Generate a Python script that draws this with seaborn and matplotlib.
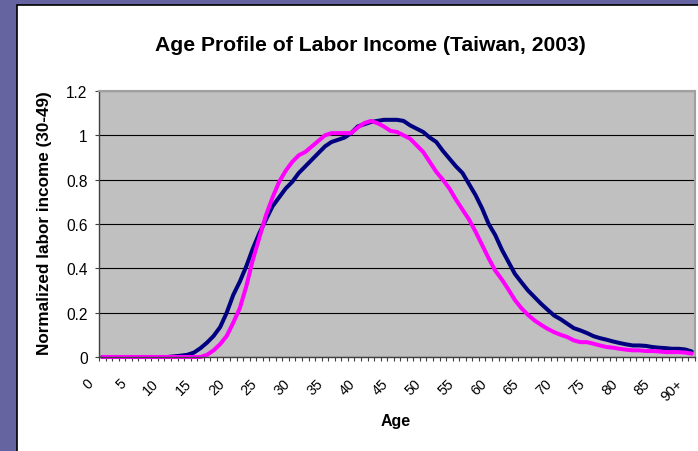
import numpy as np
import pandas as pd
import matplotlib
matplotlib.use("Agg")
import matplotlib.pyplot as plt
from matplotlib.patches import Rectangle
from matplotlib.transforms import ScaledTranslation
import seaborn as sns

# ---------------- data ----------------
ages = list(range(91))
age_labels = [str(a) if a < 90 else "90+" for a in ages]
tick_ages = list(range(0, 91, 5))

navy_profile = [
    0, 0, 0, 0, 0, 0, 0, 0, 0, 0,                                   # 0-9
    0, 0.003, 0.006, 0.01, 0.02, 0.04, 0.065, 0.095, 0.135, 0.20,    # 10-19
    0.28, 0.34, 0.41, 0.49, 0.56, 0.62, 0.68, 0.72, 0.76, 0.79,      # 20-29
    0.83, 0.86, 0.89, 0.92, 0.95, 0.97, 0.98, 0.99, 1.01, 1.04,      # 30-39
    1.05, 1.06, 1.065, 1.07, 1.07, 1.07, 1.065, 1.045, 1.03, 1.015,  # 40-49
    0.99, 0.97, 0.93, 0.895, 0.86, 0.83, 0.78, 0.73, 0.67, 0.60,     # 50-59
    0.55, 0.485, 0.43, 0.375, 0.337, 0.30, 0.27, 0.24, 0.213, 0.187, # 60-69
    0.17, 0.15, 0.13, 0.12, 0.108, 0.094, 0.085, 0.078, 0.07, 0.063, # 70-79
    0.057, 0.052, 0.052, 0.05, 0.045, 0.042, 0.04, 0.037, 0.037, 0.034, # 80-89
    0.025,                                                           # 90+
]

magenta_profile = [
    0, 0, 0, 0, 0, 0, 0, 0, 0, 0,                                    # 0-9
    0, 0, 0, 0, 0, 0, 0.01, 0.03, 0.058, 0.095,                      # 10-19
    0.155, 0.22, 0.32, 0.44, 0.54, 0.64, 0.72, 0.79, 0.84, 0.88,     # 20-29
    0.91, 0.925, 0.95, 0.975, 1.0, 1.01, 1.01, 1.01, 1.01, 1.035,    # 30-39
    1.055, 1.065, 1.055, 1.04, 1.02, 1.015, 1.0, 0.985, 0.955, 0.925,# 40-49
    0.88, 0.835, 0.80, 0.76, 0.71, 0.665, 0.62, 0.565, 0.505, 0.445, # 50-59
    0.39, 0.35, 0.305, 0.257, 0.22, 0.19, 0.165, 0.145, 0.127, 0.112,# 60-69
    0.10, 0.09, 0.075, 0.067, 0.067, 0.06, 0.052, 0.045, 0.042, 0.037, # 70-79
    0.033, 0.03, 0.03, 0.027, 0.027, 0.025, 0.022, 0.022, 0.022, 0.02, # 80-89
    0.015,                                                           # 90+
]

series_names = ["Profile A", "Profile B"]
series_colors = ["#000080", "#FF00FF"]
y_ticks = [0, 0.2, 0.4, 0.6, 0.8, 1.0, 1.2]
y_tick_labels = ["0", "0.2", "0.4", "0.6", "0.8", "1", "1.2"]

df = pd.DataFrame({
    "age": ages + ages,
    "value": navy_profile + magenta_profile,
    "series": [series_names[0]] * len(ages) + [series_names[1]] * len(ages),
})

# ---------------- style ----------------
sns.set_theme(style="white")
plt.rcParams["font.family"] = ["Liberation Sans", "DejaVu Sans"]

W, H = 698, 452
fig = plt.figure(figsize=(W / 100, H / 100), dpi=100)
fig.patch.set_facecolor("#6664A0")
fig.patches.append(Rectangle((16.5 / W, -0.05), 1.1, 1.05 - 5.5 / H,
                             transform=fig.transFigure, facecolor="white",
                             edgecolor="black", linewidth=1.2, zorder=-10))

ax_l, ax_r, ax_t, ax_b = 99, 695, 92, 358
ax = fig.add_axes([ax_l / W, 1 - ax_b / H, (ax_r - ax_l) / W, (ax_b - ax_t) / H])
ax.set_zorder(1)
ax.set_facecolor("#C0C0C0")

sns.lineplot(data=df, x="age", y="value", hue="series", hue_order=series_names,
             palette=dict(zip(series_names, series_colors)), linewidth=2.9,
             errorbar=None, legend=False, ax=ax)
for ln in ax.lines:
    ln.set_clip_on(False)
    ln.set_solid_joinstyle("round")

ax.set_xlim(-0.5, 90.5)
ax.set_ylim(0, 1.2)

# y axis
ax.set_yticks(y_ticks)
ax.set_yticklabels(y_tick_labels, fontsize=11.2)
ax.yaxis.grid(True, color="black", linewidth=0.8)
ax.xaxis.grid(False)
ax.set_axisbelow(True)
ax.tick_params(axis="y", which="major", left=True, length=3.2, width=0.8,
               color="#404040", pad=5, labelcolor="black")

# x axis: labels every 5 years, small ticks between each category
ax.set_xticks(tick_ages)
ax.set_xticklabels([age_labels[a] for a in tick_ages], rotation=45,
                   ha="right", va="center", rotation_mode="anchor", fontsize=10.3)
ax.set_xticks(np.arange(-0.5, 91, 1), minor=True)
ax.tick_params(axis="x", which="major", bottom=True, length=0, pad=17.3,
               labelcolor="black")
ax.tick_params(axis="x", which="minor", bottom=True, length=3.2, width=0.8,
               color="#404040")
shift = ScaledTranslation(-0.11, 0, fig.dpi_scale_trans)
for lab in ax.get_xticklabels():
    lab.set_transform(lab.get_transform() + shift)

for side in ["left", "bottom"]:
    ax.spines[side].set_color("#404040")
    ax.spines[side].set_linewidth(1.0)
for side in ["top", "right"]:
    ax.spines[side].set_color("#A0A0A0")
    ax.spines[side].set_linewidth(1.5)

# labels
ax.set_xlabel("Age", fontsize=11.5, fontweight="bold", color="black")
ax.xaxis.label.set_va("baseline")
ax.xaxis.set_label_coords((396 - ax_l) / (ax_r - ax_l), (ax_b - 426.5) / (ax_b - ax_t))

ax.set_ylabel("Normalized labor income (30-49)", fontsize=12.3,
              fontweight="bold", color="black")
ax.yaxis.label.set_va("baseline")
ax.yaxis.set_label_coords((49 - ax_l) / (ax_r - ax_l), (ax_b - 223) / (ax_b - ax_t))

fig.text(370.5 / W, 1 - 51 / H, "Age Profile of Labor Income (Taiwan, 2003)",
         ha="center", va="baseline", fontsize=15.2, fontweight="bold", color="black")

fig.savefig("out.png", dpi=100, facecolor=fig.get_facecolor())
